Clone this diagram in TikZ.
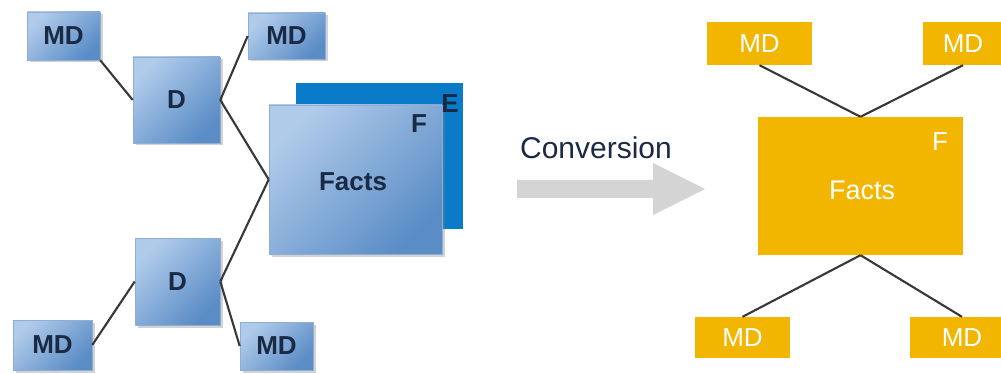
\documentclass[tikz,border=0pt]{standalone}
\usepackage{fontspec}
\setmainfont{Liberation Sans}
\usetikzlibrary{shadows}
\definecolor{boxlight}{HTML}{B0CBEA}
\definecolor{boxdark}{HTML}{5A8CC6}
\definecolor{boxedge}{HTML}{8EAED6}
\definecolor{navytext}{HTML}{1B2A44}
\definecolor{deepblue}{HTML}{0A7BC8}
\definecolor{amber}{HTML}{F2B600}
\definecolor{linkgray}{HTML}{383838}
\definecolor{arrowgray}{HTML}{D4D4D4}
\tikzset{
  bluebox/.style={rectangle, inner sep=0pt,
    top color=boxlight, bottom color=boxdark, shading angle=45,
    draw=boxedge, line width=0.6pt,
    drop shadow={shadow xshift=2.5pt, shadow yshift=-2.5pt, opacity=0.35},
    text=navytext, font=\bfseries\fontsize{26}{30}\selectfont},
  amberbox/.style={rectangle, inner sep=0pt, fill=amber,
    text=white, font=\fontsize{26}{30}\selectfont},
  link/.style={draw=linkgray, line width=2.1pt},
  tag/.style={inner sep=0pt, font=\bfseries\fontsize{26}{30}\selectfont},
}
\begin{document}
\begin{tikzpicture}[x=1pt, y=-1pt]
\useasboundingbox (0,0) rectangle (1001,374);
\clip (0,0) rectangle (1001,374);
\fill[white] (0,0) rectangle (1001,374);

% ---- star schema: dimensions around the fact table ----
\node[rectangle, inner sep=0pt, fill=deepblue,
      minimum width=167pt, minimum height=146pt] (back) at (379.5,156) {};

\node[bluebox, minimum width=173pt, minimum height=149pt] (facts) at (355.5,179.5) {};
\node[tag, text=navytext] (factstext) at (353,182) {Facts};
\node[tag, text=navytext] (flabel) at (419,124) {F};
\node[tag, text=navytext] (elabel) at (450,104) {E};

\node[bluebox, minimum width=87pt, minimum height=86pt] (dA) at (176.5,100) {D};
\node[bluebox, minimum width=85pt, minimum height=87pt] (dB) at (177.5,281.5) {D};

\node[bluebox, minimum width=73pt, minimum height=48pt] (mdA) at (63.5,36) {MD};
\node[bluebox, minimum width=77pt, minimum height=46pt] (mdB) at (286.5,36) {MD};
\node[bluebox, minimum width=79pt, minimum height=50pt] (mdC) at (52.5,345) {MD};
\node[bluebox, minimum width=73pt, minimum height=48pt] (mdD) at (276.5,346) {MD};

\draw[link] (mdA.south east) -- (dA.west);
\draw[link] (dA.east) -- (mdB.west);
\draw[link] (dA.east) -- (facts.west);
\draw[link] (facts.west) -- (dB.east);
\draw[link] (dB.west) -- (mdC.east);
\draw[link] (dB.east) -- (mdD.west);

% ---- conversion arrow ----
\node[inner sep=0pt, text=navytext, font=\fontsize{30}{34}\selectfont] (conv) at (596,148) {Conversion};
\fill[arrowgray] (517,180) -- (653,180) -- (653,163) -- (705,189)
                 -- (653,215) -- (653,198) -- (517,198) -- cycle;

% ---- flattened result ----
\node[amberbox, minimum width=205pt, minimum height=138pt] (facts2) at (860.5,186) {};
\node[inner sep=0pt, text=white, font=\fontsize{27}{30}\selectfont] (facts2text) at (862,190) {Facts};
\node[inner sep=0pt, text=white, font=\fontsize{26}{30}\selectfont] (f2label) at (940,142) {F};

\node[amberbox, minimum width=105pt, minimum height=43pt] (mdE) at (759.5,43.5) {MD};
\node[amberbox, minimum width=80pt, minimum height=43pt] (mdF) at (963,43.5) {MD};
\node[amberbox, minimum width=95pt, minimum height=41pt] (mdG) at (742.5,337.5) {MD};
\node[amberbox, minimum width=104pt, minimum height=41pt] (mdH) at (962,337.5) {MD};

\draw[link] (mdE.south) -- (facts2.north);
\draw[link] (mdF.south) -- (facts2.north);
\draw[link] (facts2.south) -- (mdG.north);
\draw[link] (facts2.south) -- (mdH.north);
\end{tikzpicture}
\end{document}
